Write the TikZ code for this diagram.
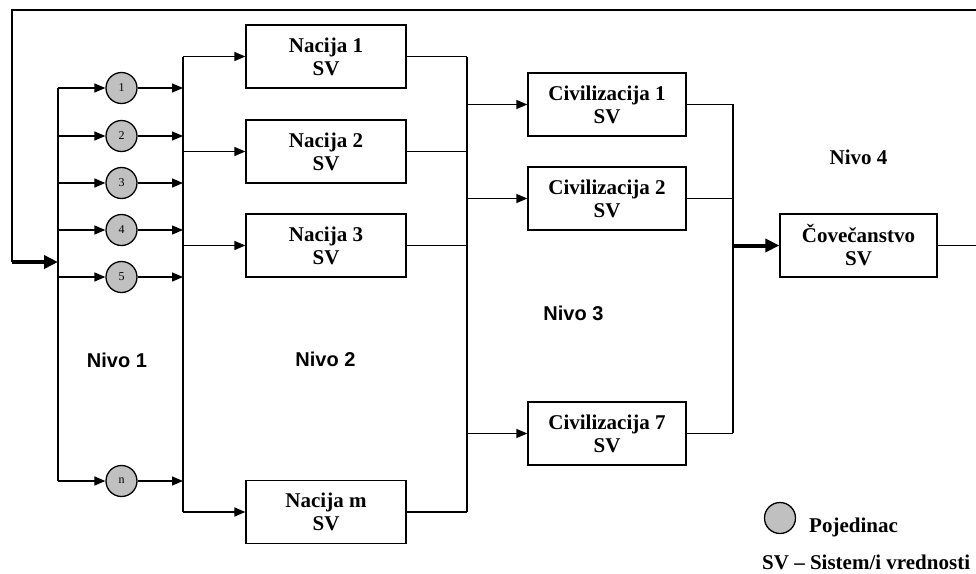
\documentclass[tikz,border=0pt]{standalone}
\usepackage{fontspec}
\setmainfont{Liberation Serif}
\newfontfamily\nivofont{Liberation Sans}
\usetikzlibrary{arrows.meta}
\definecolor{circgray}{HTML}{C0C0C0}
\begin{document}
\begin{tikzpicture}[x=1pt,y=-1pt,
  ln/.style={line width=1.3pt},
  arr/.style={ln,-{Triangle[length=11pt,width=9pt]}},
  bigarr/.style={line width=4pt,-{Triangle[length=14pt,width=13pt]}},
  sysbox/.style={draw,line width=1.3pt,minimum width=160pt,minimum height=63pt,
    align=center,inner sep=0pt,font=\fontsize{21}{23}\selectfont\bfseries},
  civbox/.style={sysbox,minimum width=158pt},
  indiv/.style={circle,draw,fill=circgray,line width=1.3pt,minimum size=31pt,
    inner sep=0pt,font=\fontsize{12}{12}\selectfont},
  nivo/.style={font=\nivofont\fontsize{20}{24}\selectfont\bfseries},
  sertext/.style={font=\fontsize{21}{23}\selectfont\bfseries,inner sep=0pt}]
\useasboundingbox (0,0) rectangle (976,573);

% buses
\coordinate (b1t) at (58,88);  \coordinate (b1b) at (58,481);
\coordinate (b2t) at (183,57); \coordinate (b2b) at (183,512);
\coordinate (b3t) at (467,57); \coordinate (b3b) at (467,512);
\coordinate (b4t) at (733,104);\coordinate (b4b) at (733,433);

% individuals
\node[indiv] (p1) at (121.5,88)  {\raisebox{-3pt}{1}};
\node[indiv] (p2) at (121.5,136) {\raisebox{-3pt}{2}};
\node[indiv] (p3) at (121.5,183) {\raisebox{-3pt}{3}};
\node[indiv] (p4) at (121.5,230) {\raisebox{-3pt}{4}};
\node[indiv] (p5) at (121.5,277) {\raisebox{-3pt}{5}};
\node[indiv] (pn) at (121.5,481) {\raisebox{-3pt}{n}};

% nations
\node[sysbox] (nac1) at (326,56.5) {Nacija 1\\SV};
\node[sysbox] (nac2) at (326,151.5) {Nacija 2\\SV};
\node[sysbox] (nac3) at (326,245.5) {Nacija 3\\SV};
\node[sysbox] (nacm) at (326,512) {Nacija m\\SV};

% civilizations
\node[civbox] (civ1) at (607,104.5) {Civilizacija 1\\SV};
\node[civbox] (civ2) at (607,198.5) {Civilizacija 2\\SV};
\node[civbox] (civ7) at (607,433.5) {Civilizacija 7\\SV};

% humanity
\node[sysbox,minimum width=157pt] (cov) at (858.5,245.5) {Čovečanstvo\\SV};

% feedback loop
\coordinate (fbR) at (976,10);
\coordinate (fbL) at (12,10);
\coordinate (fbB) at (12,262);
\coordinate (rt) at (976,245.5);
\draw[ln] (fbR) -- (fbL) -- (fbB);
\draw[bigarr] (fbB) -- (fbB -| b1t);
\draw[ln] (cov.east) -- (rt);

% level 1
\draw[ln] (b1t) -- (b1b);
\foreach \p in {p1,p2,p3,p4,p5,pn}{
  \draw[arr] (\p.west -| b1t) -- (\p.west);
  \draw[arr] (\p.east) -- (\p.east -| b2t);
}

% level 2
\draw[ln] (b2t) -- (b2b);
\foreach \n in {nac1,nac2,nac3,nacm}{
  \draw[arr] (\n.west -| b2t) -- (\n.west);
  \draw[ln] (\n.east) -- (\n.east -| b3t);
}

% level 3
\draw[ln] (b3t) -- (b3b);
\foreach \c in {civ1,civ2,civ7}{
  \draw[arr] (\c.west -| b3t) -- (\c.west);
  \draw[ln] (\c.east) -- (\c.east -| b4t);
}

% level 4
\draw[ln] (b4t) -- (b4b);
\draw[bigarr] (cov.west -| b4t) -- (cov.west);

% level labels
\node[nivo] (n1) at (117,360) {Nivo 1};
\node[nivo] (n2) at (325.5,359) {Nivo 2};
\node[nivo] (n3) at (573.5,313) {Nivo 3};
\node[sertext] (n4) at (858.5,157) {Nivo 4};

% legend
\node[indiv] (leg) at (780,518) {};
\node[sertext,anchor=base west] (pj) at (809,532) {Pojedinac};
\node[sertext,anchor=base west] (sv) at (762,569) {SV – Sistem/i vrednosti};
\end{tikzpicture}
\end{document}
